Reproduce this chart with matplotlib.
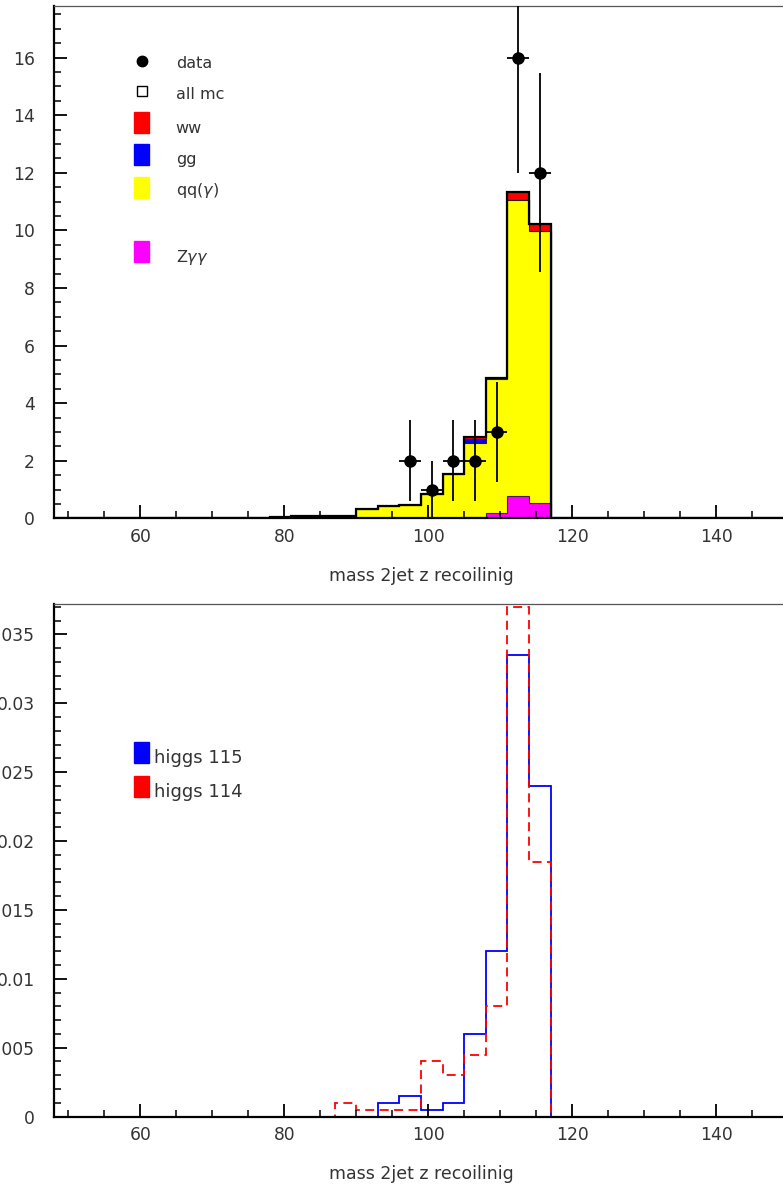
import numpy as np
import matplotlib.pyplot as plt
from matplotlib.patches import Rectangle
from matplotlib.ticker import MultipleLocator, FuncFormatter

plt.rcParams['font.family'] = ['DejaVu Sans']

#---------------- binning: 34 bins of 3 GeV from 48 to 150
edges = np.arange(48, 151, 3)

#---------------- top panel: background MC, bins starting at 78 GeV
bkg_start = 78
qq_vals = [0.03, 0.07, 0.08, 0.07, 0.32, 0.41, 0.45, 0.85, 1.53, 2.57, 4.63, 10.25, 9.46]
zgg_vals = [0, 0, 0, 0, 0, 0, 0, 0, 0, 0.03, 0.19, 0.79, 0.53]
gg_vals = [0, 0, 0, 0, 0, 0, 0, 0, 0, 0.17, 0, 0, 0]
ww_vals = [0, 0, 0, 0, 0, 0, 0, 0, 0, 0.07, 0.05, 0.29, 0.23]

# data points (bin centres, counts)
data_x = [97.5, 100.5, 103.5, 106.5, 109.5, 112.5, 115.5]
data_n = [2, 1, 2, 2, 3, 16, 12]

#---------------- bottom panel: higgs signal, bins starting at 87 GeV
sig_start = 87
higgs115 = [0, 0, 0.001, 0.0015, 0.0005, 0.001, 0.006, 0.012, 0.0335, 0.024]
higgs114 = [0.001, 0.0005, 0.0005, 0.0005, 0.004, 0.003, 0.0045, 0.008, 0.037, 0.0185]

xlabel = 'mass 2jet z recoilinig'


def full(vals, start):
    h = np.zeros(len(edges) - 1)
    i0 = int((start - edges[0]) / 3)
    h[i0:i0 + len(vals)] = vals
    return h


W, H = 783, 1189
TXT = '#333333'


def fpos(x, y):
    # pixel position -> figure fraction
    return x / W, 1 - y / H


def style_axes(ax, ymaj, ymin, pad_y):
    ax.tick_params(which='both', direction='in', top=False, right=False,
                   colors='black', labelcolor=TXT, labelsize=12.3)
    ax.tick_params(axis='x', which='major', length=9.4, width=1.3, pad=7)
    ax.tick_params(axis='x', which='minor', length=5, width=1.1)
    ax.tick_params(axis='y', which='major', length=9.4, width=1.3, pad=pad_y)
    ax.tick_params(axis='y', which='minor', length=5, width=1.1)
    ax.xaxis.set_major_locator(MultipleLocator(20))
    ax.xaxis.set_minor_locator(MultipleLocator(5))
    ax.yaxis.set_major_locator(MultipleLocator(ymaj))
    ax.yaxis.set_minor_locator(MultipleLocator(ymin))
    ax.yaxis.set_major_formatter(FuncFormatter(lambda v, p: '%g' % round(v, 6)))
    ax.spines['left'].set_linewidth(1.6)
    ax.spines['bottom'].set_linewidth(1.6)
    ax.spines['top'].set_linewidth(0.9)
    ax.spines['top'].set_color('#555555')
    ax.set_xlim(48, 150)
    ax.set_xlabel(xlabel, fontsize=12.5, color=TXT, labelpad=15)


fig = plt.figure(figsize=(W / 100, H / 100), dpi=100)

#------------- top panel: stacked backgrounds + data
ax1 = fig.add_axes([54 / W, 1 - 518.3 / H, 734 / W, 512.6 / H])
zgg = full(zgg_vals, bkg_start)
qq = full(qq_vals, bkg_start)
gg = full(gg_vals, bkg_start)
ww = full(ww_vals, bkg_start)

layer_z = zgg
layer_q = layer_z + qq
layer_g = layer_q + gg
layer_w = layer_g + ww

ax1.stairs(layer_w, edges, fill=True, facecolor='#ff0000', edgecolor='#222222', lw=0.8)
ax1.stairs(layer_g, edges, fill=True, facecolor='#0000ff', edgecolor='#222222', lw=0.8)
ax1.stairs(layer_q, edges, fill=True, facecolor='#ffff00', edgecolor='#222222', lw=0.8)
ax1.stairs(layer_z, edges, fill=True, facecolor='#ff00ff', edgecolor='#442244', lw=0.8)
ax1.stairs(layer_w, edges, baseline=0, color='black', lw=1.6)

ax1.errorbar(data_x, data_n, yerr=np.sqrt(data_n), xerr=1.5, fmt='o',
             color='black', ms=8, elinewidth=1.3, capsize=0, zorder=5)

ax1.set_ylim(0, 17.8)
style_axes(ax1, 2, 0.5, 13.7)

# legend (drawn by hand, PAW style)
fig.add_artist(plt.Line2D([141.7 / W], [1 - 61 / H], marker='o', ms=7.5,
                          color='black', transform=fig.transFigure))
fig.add_artist(plt.Line2D([141.7 / W], [1 - 91 / H], marker='s', ms=7,
                          mfc='white', mec='black', mew=1.0, transform=fig.transFigure))
leg_top = [('ww', '#ff0000', 133), ('gg', '#0000ff', 165),
           (r'qq($\gamma$)', '#ffff00', 198), (r'Z$\gamma\gamma$', '#ff00ff', 262)]
for lab, col, yb in leg_top:
    x0, y0 = fpos(134, yb)
    fig.add_artist(Rectangle((x0, y0), 15 / W, 21 / H, color=col,
                             transform=fig.transFigure))
for lab, yb in [('data', 68.3), ('all mc', 99), ('ww', 133.3), ('gg', 164),
                (r'qq($\gamma$)', 195), (r'Z$\gamma\gamma$', 262)]:
    fig.text(*fpos(175.7, yb), lab, fontsize=11.5, color=TXT, va='baseline')

#------------- bottom panel: higgs signal shapes
ax2 = fig.add_axes([54 / W, 1 - 1116.5 / H, 734 / W, 512.5 / H])
ax2.stairs(full(higgs115, sig_start), edges, baseline=0, color='#0000ff', lw=1.3)
ax2.stairs(full(higgs114, sig_start), edges, baseline=0, color='#ff0000', lw=1.3,
           linestyle=(0, (5, 3)))
ax2.set_ylim(0, 0.0372)
style_axes(ax2, 0.005, 0.001, 13.7)

for lab, col, yb in [('higgs 115', '#0000ff', 763.3), ('higgs 114', '#ff0000', 796.7)]:
    x0, y0 = fpos(134, yb)
    fig.add_artist(Rectangle((x0, y0), 15 / W, 21 / H, color=col,
                             transform=fig.transFigure))
    fig.text(*fpos(154, yb), lab, fontsize=13, color=TXT, va='baseline')

fig.savefig('out.png', dpi=100)
